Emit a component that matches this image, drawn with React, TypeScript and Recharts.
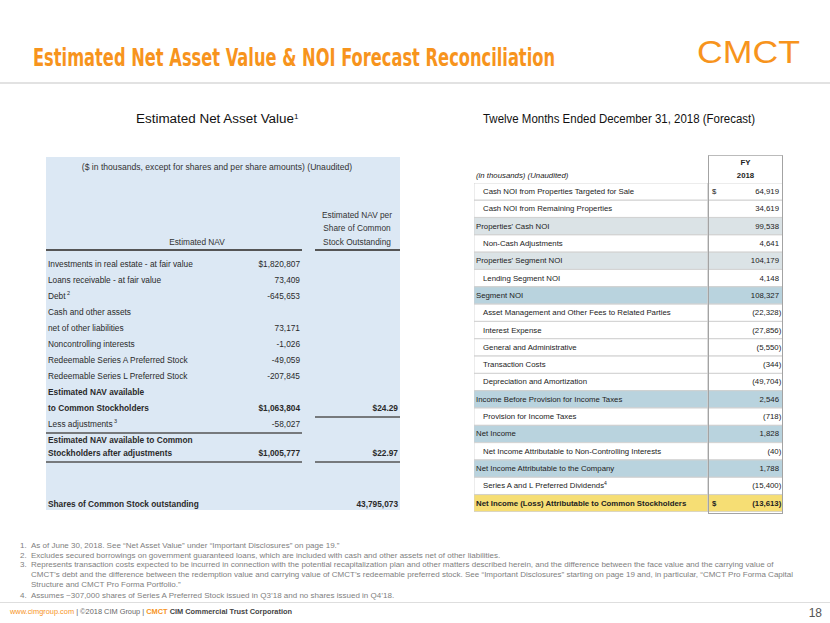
import React from 'react';
import { BarChart, Bar, XAxis, YAxis } from 'recharts';

// ---------- Left table: Estimated NAV ----------
const navLabels = [
  'Investments in real estate - at fair value',
  'Loans receivable - at fair value',
  'Debt',
  'Cash and other assets',
  'net of other liabilities',
  'Noncontrolling interests',
  'Redeemable Series A Preferred Stock',
  'Redeemable Series L Preferred Stock',
  'Estimated NAV available',
  'to Common Stockholders',
  'Less adjustments',
  'Estimated NAV available to Common',
  'Stockholders after adjustments',
  '',
  '',
  'Shares of Common Stock outstanding',
];
const navNotes = ['', '', '2', '', '', '', '', '', '', '', '3', '', '', '', '', ''];
const navValues: (number | null)[] = [
  1820807, 73409, -645653, null, 73171, -1026, -49059, -207845,
  null, 1063804, -58027, null, 1005777, null, null, null,
];
const navPerShare: (number | null)[] = [
  null, null, null, null, null, null, null, null,
  null, 24.29, null, null, 22.97, null, null, null,
];
const sharesOutstanding = 43795073;
const navBoldRows = [8, 9, 11, 12, 15];
const navDollarRows = [0, 9, 12];
const navValueRules = [10, 12];
const navPerShareRules = [9, 12];

// ---------- Right table: NOI forecast ----------
const noiLabels = [
  'Cash NOI from Properties Targeted for Sale',
  'Cash NOI from Remaining Properties',
  "Properties' Cash NOI",
  'Non-Cash Adjustments',
  "Properties' Segment NOI",
  'Lending Segment NOI',
  'Segment NOI',
  'Asset Management and Other Fees to Related Parties',
  'Interest Expense',
  'General and Administrative',
  'Transaction Costs',
  'Depreciation and Amortization',
  'Income Before Provision for Income Taxes',
  'Provision for Income Taxes',
  'Net Income',
  'Net Income Attributable to Non-Controlling Interests',
  'Net Income Attributable to the Company',
  'Series A and L Preferred Dividends',
  'Net Income (Loss) Attributable to Common Stockholders',
];
const noiValues = [
  64919, 34619, 99538, 4641, 104179, 4148, 108327, -22328, -27856, -5550,
  -344, -49704, 2546, -718, 1828, -40, 1788, -15400, -13613,
];
const noiKinds = [
  'item', 'item', 'sub', 'item', 'sub', 'item', 'total', 'item', 'item', 'item',
  'item', 'item', 'total', 'item', 'total', 'item', 'total', 'item', 'final',
];
const noiNotes = ['', '', '', '', '', '', '', '', '', '', '', '', '', '', '', '', '', '4', ''];
const noiDollarRows = [0, 18];

const FONT = "'Liberation Sans', Arial, Helvetica, sans-serif";
const ORANGE = '#f7941d';
const SPLIT = 0.757;

const KIND_FILL: Record<string, string> = {
  item: '#ffffff',
  sub: '#dbe3e6',
  total: '#b9d3de',
  final: '#f6de74',
};

const fmt = (v: number) => v.toLocaleString('en-US');

const navRows = navLabels.map((label, i) => ({
  id: 'r' + i,
  label,
  note: navNotes[i],
  value: navValues[i],
  perShare: i === navLabels.length - 1 ? sharesOutstanding : navPerShare[i],
  band: 1,
}));

const noiRows = noiLabels.map((label, i) => ({
  label,
  value: noiValues[i],
  kind: noiKinds[i],
  note: noiNotes[i],
  labelBand: SPLIT,
  valueBand: 1 - SPLIT,
}));

const NavRowShape = (p: any) => {
  const { x, y, width, height, index } = p;
  const row = navRows[index];
  const bold = navBoldRows.includes(index);
  const cy = y + height / 2 + (index === 12 ? -3 : 0);
  const valText =
    row.value == null ? '' : (navDollarRows.includes(index) ? '$' : '') + fmt(row.value);
  let psText = '';
  if (row.perShare != null) {
    psText = index === navLabels.length - 1 ? fmt(row.perShare) : '$' + row.perShare.toFixed(2);
  }
  const common = {
    fontFamily: FONT,
    fontSize: 8.3,
    fill: '#2a2a2a',
    fontWeight: bold ? 'bold' : 'normal',
    dominantBaseline: 'central' as const,
  };
  return (
    <g>
      <text x={x + 2} y={cy} {...common}>
        {row.label}
        {row.note ? (
          <tspan dy={-3} fontSize={5.5}>{' ' + row.note}</tspan>
        ) : null}
      </text>
      {valText ? (
        <text x={x + 254} y={cy} textAnchor="end" {...common}>{valText}</text>
      ) : null}
      {psText ? (
        <text x={x + width - 2} y={cy} textAnchor="end" {...common}>{psText}</text>
      ) : null}
      {navValueRules.includes(index) ? (
        <line x1={x} x2={x + 256} y1={cy + 9} y2={cy + 9} stroke="#555" strokeWidth={1.4} />
      ) : null}
      {navPerShareRules.includes(index) ? (
        <line x1={x + 269} x2={x + width} y1={cy + 9} y2={cy + 9} stroke="#555" strokeWidth={1.4} />
      ) : null}
    </g>
  );
};

const NoiLabelShape = (p: any) => {
  const { x, y, width, height, index } = p;
  const row = noiRows[index];
  const indent = row.kind === 'item' ? 9 : 2;
  return (
    <g>
      <rect x={x} y={y} width={width} height={height} fill={KIND_FILL[row.kind]} stroke="#cfcfcf" strokeWidth={0.8} />
      <text
        x={x + indent}
        y={y + height / 2}
        dominantBaseline="central"
        fontFamily={FONT}
        fontSize={7.8}
        fill="#222"
        fontWeight={row.kind === 'final' ? 'bold' : 'normal'}
      >
        {row.label}
        {row.note ? <tspan dy={-3} fontSize={5}>{row.note}</tspan> : null}
      </text>
    </g>
  );
};

const NoiValueShape = (p: any) => {
  const { x, y, width, height, index } = p;
  const row = noiRows[index];
  const neg = row.value < 0;
  const txt = neg ? '(' + fmt(-row.value) + ')' : fmt(row.value);
  const bold = row.kind === 'final';
  const common = {
    fontFamily: FONT,
    fontSize: 7.8,
    fill: '#222',
    fontWeight: bold ? 'bold' : 'normal',
    dominantBaseline: 'central' as const,
  };
  return (
    <g>
      <rect x={x} y={y} width={width} height={height} fill={KIND_FILL[row.kind]} stroke="#cfcfcf" strokeWidth={0.8} />
      {noiDollarRows.includes(index) ? (
        <text x={x + 4} y={y + height / 2} {...common}>$</text>
      ) : null}
      <text x={x + width - (neg ? 1.7 : 4)} y={y + height / 2} textAnchor="end" {...common}>{txt}</text>
    </g>
  );
};

const footnotes = [
  ['1.', 'As of June 30, 2018. See “Net Asset Value” under “Important Disclosures” on page 19.”'],
  ['2.', 'Excludes secured borrowings on government guaranteed loans, which are included with cash and other assets net of other liabilities.'],
  ['3.', 'Represents transaction costs expected to be incurred in connection with the potential recapitalization plan and other matters described herein, and the difference between the face value and the carrying value of'],
  ['', 'CMCT’s debt and the difference between the redemption value and carrying value of CMCT’s redeemable preferred stock. See “Important Disclosures” starting on page 19 and, in particular, “CMCT Pro Forma Capital'],
  ['', 'Structure and CMCT Pro Forma Portfolio.”'],
  ['4.', 'Assumes ~307,000 shares of Series A Preferred Stock issued in Q3’18 and no shares issued in Q4’18.'],
];
const footY = [548, 557.5, 567, 577, 587, 598];

export default function App() {
  return (
    <div
      style={{
        position: 'absolute',
        left: 0,
        top: 0,
        width: 830,
        height: 623,
        overflow: 'hidden',
        background: '#fff',
        fontFamily: FONT,
      }}
    >
      {/* Left table background and header */}
      <div style={{ position: 'absolute', left: 46, top: 157, width: 354, height: 353, background: '#dce8f4' }} />
      <div style={{ position: 'absolute', left: 46, top: 161, width: 342, textAlign: 'center', fontSize: 8.6, color: '#333', lineHeight: '12px' }}>
        ($ in thousands, except for shares and per share amounts) (Unaudited)
      </div>
      <div style={{ position: 'absolute', left: 46, top: 236, width: 302, textAlign: 'center', fontSize: 8.3, color: '#333', lineHeight: '12px' }}>
        Estimated NAV
      </div>
      <div style={{ position: 'absolute', left: 310, top: 209, width: 94, textAlign: 'center', fontSize: 8.3, color: '#333', lineHeight: '13.4px' }}>
        Estimated NAV per<br />Share of Common<br />Stock Outstanding
      </div>
      <div style={{ position: 'absolute', left: 46, top: 249, width: 256, height: 1.5, background: '#555' }} />
      <div style={{ position: 'absolute', left: 315, top: 249, width: 85, height: 1.5, background: '#555' }} />

      <div style={{ position: 'absolute', left: 46, top: 256 }}>
        <BarChart
          layout="vertical"
          width={354}
          height={256}
          data={navRows}
          margin={{ top: 0, right: 0, bottom: 0, left: 0 }}
          barCategoryGap={0}
        >
          <XAxis type="number" domain={[0, 1]} hide />
          <YAxis type="category" dataKey="id" hide />
          <Bar dataKey="band" fill="none" isAnimationActive={false} shape={NavRowShape} />
        </BarChart>
      </div>

      {/* Right table */}
      <div style={{ position: 'absolute', left: 474, top: 183 }}>
        <BarChart
          layout="vertical"
          width={309}
          height={329}
          data={noiRows}
          margin={{ top: 0, right: 0, bottom: 0, left: 0 }}
          barCategoryGap={0}
        >
          <XAxis type="number" domain={[0, 1]} hide />
          <YAxis type="category" dataKey="label" hide />
          <Bar dataKey="labelBand" stackId="r" fill="#fff" isAnimationActive={false} shape={NoiLabelShape} />
          <Bar dataKey="valueBand" stackId="r" fill="#fff" isAnimationActive={false} shape={NoiValueShape} />
        </BarChart>
      </div>
      <div
        style={{
          position: 'absolute',
          left: 708,
          top: 155,
          width: 75,
          height: 359,
          boxSizing: 'border-box',
          border: '1px solid #a3a3a3',
          borderTopColor: '#bbb',
        }}
      />
      <div style={{ position: 'absolute', left: 709, top: 156, width: 73, textAlign: 'center', fontSize: 7.8, fontWeight: 'bold', color: '#222', lineHeight: '13px' }}>
        FY<br />2018
      </div>
      <div style={{ position: 'absolute', left: 476, top: 170, fontSize: 7.8, fontStyle: 'italic', color: '#222', lineHeight: '12px' }}>
        (in thousands) (Unaudited)
      </div>

      {/* Static slide text */}
      <svg width={830} height={623} style={{ position: 'absolute', left: 0, top: 0, pointerEvents: 'none' }}>
        <text
          transform="translate(33,66) scale(1,1.3)"
          x={0}
          y={0}
          fontFamily="'Liberation Sans Narrow', 'DejaVu Sans Condensed', sans-serif"
          fontSize={18.4}
          fontWeight="bold"
          fill={ORANGE}
          textLength={522}
          lengthAdjust="spacingAndGlyphs"
        >
          Estimated Net Asset Value &amp; NOI Forecast Reconciliation
        </text>
        <text x={697} y={63} fontFamily={FONT} fontSize={32} fill={ORANGE} textLength={103} lengthAdjust="spacingAndGlyphs">
          CMCT
        </text>
        <rect x={0} y={82} width={830} height={2} fill="#e2e2e2" />
        <text x={136} y={122.5} fontFamily={FONT} fontSize={12.5} fill="#111">
          <tspan textLength={158} lengthAdjust="spacingAndGlyphs">Estimated Net Asset Value</tspan>
          <tspan dy={-4} fontSize={8}>1</tspan>
        </text>
        <text x={483} y={122.5} fontFamily={FONT} fontSize={12} fill="#111" textLength={272} lengthAdjust="spacingAndGlyphs">
          Twelve Months Ended December 31, 2018 (Forecast)
        </text>
        {footnotes.map(([n, t], i) => (
          <g key={i}>
            {n ? (
              <text x={20} y={footY[i]} fontFamily={FONT} fontSize={8} fill="#808080">{n}</text>
            ) : null}
            <text x={31} y={footY[i]} fontFamily={FONT} fontSize={8} fill="#808080">{t}</text>
          </g>
        ))}
        <rect x={0} y={602} width={830} height={1} fill="#dedede" />
        <text x={10} y={613.5} fontFamily={FONT} fontSize={7.4} fill="#666">
          <tspan fill={ORANGE}>www.cimgroup.com</tspan>
          <tspan>{'  |  ©2018 CIM Group  |  '}</tspan>
          <tspan fill={ORANGE} fontWeight="bold">CMCT</tspan>
          <tspan fontWeight="bold" fill="#444">{' CIM Commercial Trust Corporation'}</tspan>
        </text>
        <text x={822} y={617} textAnchor="end" fontFamily={FONT} fontSize={12} fill="#555">18</text>
      </svg>
    </div>
  );
}
